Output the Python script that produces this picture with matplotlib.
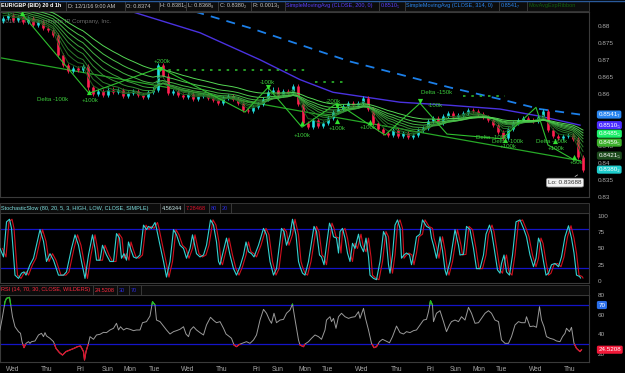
import matplotlib
matplotlib.use('Agg')
import matplotlib.pyplot as plt
import matplotlib.transforms as mtrans
import numpy as np
import pandas as pd
from matplotlib.patches import Rectangle
from matplotlib.lines import Line2D
from matplotlib.colors import LinearSegmentedColormap

plt.rcParams['font.family'] = ['Liberation Sans', 'DejaVu Sans']
plt.rcParams['font.size'] = 4.6

# ---------------- data ----------------
prior_closes = [0.8890, 0.8880, 0.8870, 0.8860, 0.8850, 0.8840, 0.8835, 0.8830]
first_open = 0.8815
closes = [
    0.8823, 0.8832, 0.8817, 0.8826, 0.8812, 0.8823, 0.8803, 0.8812, 0.8794, 0.8788,
    0.8774, 0.8716, 0.8687, 0.8667, 0.8678, 0.8672, 0.8684, 0.8620, 0.8600, 0.8609,
    0.8597, 0.8614, 0.8606, 0.8612, 0.8594, 0.8603, 0.8609, 0.8597, 0.8591, 0.8606,
    0.8614, 0.8687, 0.8655, 0.8603, 0.8609, 0.8597, 0.8591, 0.8600, 0.8586, 0.8594,
    0.8597, 0.8588, 0.8583, 0.8574, 0.8588, 0.8594, 0.8586, 0.8574, 0.8554, 0.8551,
    0.8562, 0.8571, 0.8586, 0.8606, 0.8614, 0.8597, 0.8609, 0.8603, 0.8623, 0.8571,
    0.8516, 0.8504, 0.8525, 0.8507, 0.8516, 0.8530, 0.8548, 0.8557, 0.8565, 0.8574,
    0.8568, 0.8574, 0.8588, 0.8557, 0.8516, 0.8499, 0.8487, 0.8481, 0.8496, 0.8478,
    0.8487, 0.8475, 0.8481, 0.8496, 0.8501, 0.8522, 0.8530, 0.8516, 0.8536, 0.8545,
    0.8533, 0.8539, 0.8545, 0.8554, 0.8551, 0.8542, 0.8533, 0.8525, 0.8510, 0.8490,
    0.8472, 0.8499, 0.8516, 0.8525, 0.8530, 0.8525, 0.8522, 0.8533, 0.8551, 0.8496,
    0.8478, 0.8472, 0.8478, 0.8481, 0.8470, 0.8417, 0.8380]
ribbon_spans = [3, 5, 7, 10, 13, 17, 22, 29]

sma200_t = [22.4, 24.8, 39.4, 51.4, 59.4, 66.0, 79.4, 89.4, 99.4, 107.4, 115.4]
sma200_v = [0.8861, 0.8846, 0.8780, 0.8701, 0.8643, 0.8606, 0.8577, 0.8568, 0.8557, 0.8536, 0.8510]
sma314_t = [35.4, 37.4, 49.4, 59.4, 69.4, 79.4, 89.4, 99.4, 107.4, 115.4]
sma314_v = [0.8858, 0.8846, 0.8794, 0.8745, 0.8696, 0.8658, 0.8620, 0.8586, 0.8557, 0.8541]

trend_t = [-0.6, 115.4]
trend_v = [0.8707, 0.8406]
zig_t = [3.8, 17.2, 31.4, 48.4, 53.0, 59.8, 66.8, 76.4, 83.4, 88.8, 99.8, 106.6, 109.0, 113.8]
zig_v = [0.8835, 0.8603, 0.8678, 0.8548, 0.8620, 0.8504, 0.8574, 0.8481, 0.8574, 0.8484,
         0.8470, 0.8562, 0.8452, 0.8412]
dot_levels = [0.8672, 0.8635, 0.8594]
dot_start = [31.4, 62.4, 92.0]
dot_end = [61.4, 68.4, 100.4]

tri_up_t = [3.8, 17.2, 59.8, 66.8, 73.4, 100.4, 110.4, 114.2]
tri_up_v = [0.8838, 0.8606, 0.8516, 0.8522, 0.8519, 0.8467, 0.8464, 0.8417]
tri_dn_t = [31.4, 53.0, 66.8, 83.4]
tri_dn_v = [0.8675, 0.8620, 0.8565, 0.8580]

note_text = ['Delta -100k', '+100k', '+200k', '-100k', 'Delta -150k', '-200k', '+100k', '+100k',
             '+100k', '-100k', 'Delta -100k', 'Delta -100k', '+100k', 'Delta -100k', '+100k', '+50k']
note_t = [10.0, 17.4, 31.8, 52.8, 86.8, 66.0, 66.8, 59.8, 73.0, 86.4, 97.8, 101.0, 101.0, 109.8, 110.6, 114.6]
note_v = [0.8586, 0.8583, 0.8696, 0.8635, 0.8606, 0.8580, 0.8501, 0.8481, 0.8504, 0.8568,
          0.8475, 0.8461, 0.8449, 0.8461, 0.8441, 0.8400]

last_labels = ['0.8541\u2087', '0.8510\u2085', '0.8485\u2085', '0.8459\u2085', '0.8421\u2085', '0.8380\u2082']
last_values = [0.8541, 0.8510, 0.8485, 0.8459, 0.8421, 0.8380]
last_colors = ['#2a86f0', '#4a2cff', '#1cf06a', '#3cb02a', '#1c4a1c', '#1ecccc']
low_value = 0.83688
low_t = 115.4

stoch_t = [-0.6, 0.1, 0.7, 1.3, 1.7, 2.2, 2.4, 3.1, 3.7, 4.2, 4.6, 5.4, 6.1, 6.7, 7.4, 8.1, 8.7,
           9.4, 10.1, 11.1, 12.1, 12.7, 13.7, 14.4, 15.1, 15.7, 16.4, 17.1, 17.9, 18.4, 18.7,
           19.4, 19.9, 20.7, 21.4, 22.1, 22.7, 23.3, 23.7, 24.2, 24.7, 25.1, 25.5, 26.1, 26.7,
           27.4, 28.1, 28.7, 29.1, 29.7, 30.4, 30.7, 31.4, 32.1, 32.7, 33.4, 34.1, 34.7, 35.4,
           36.1, 36.7, 37.4, 37.9, 38.7, 39.4, 40.1, 40.7, 41.5, 42.1, 42.7, 43.1, 43.4, 44.2,
           44.7, 45.4, 46.1, 46.7, 47.4, 48.1, 48.6, 49.1, 49.7, 50.2, 51.1, 52.1, 52.7, 53.4,
           54.1, 54.7, 55.7, 56.2, 56.7, 57.4, 57.9, 58.6, 59.1, 59.4, 59.9, 60.4, 61.1, 61.7,
           62.2, 62.7, 63.3, 63.7, 64.2, 64.7, 65.3, 65.7, 66.1, 66.7, 67.1, 67.4, 67.9, 68.4,
           68.9, 69.4, 69.9, 70.4, 71.1, 71.5, 72.1, 72.6, 73.1, 73.4, 74.1, 74.7, 75.4, 76.1,
           76.6, 77.1, 77.4, 77.9, 78.4, 78.9, 79.4, 79.7, 80.2, 80.7, 81.3, 81.7, 82.2, 82.7,
           83.4, 83.9, 84.7, 85.4, 85.7, 86.1, 86.7, 87.4, 87.9, 88.4, 88.7, 89.4, 89.9, 90.4,
           91.1, 91.4, 92.1, 92.7, 93.4, 94.1, 94.7, 95.4, 96.1, 96.6, 97.3, 97.7, 98.2, 98.9,
           99.4, 99.7, 100.2, 100.7, 101.3, 101.9, 102.6, 103.4, 104.1, 104.7, 105.4, 106.1,
           106.6, 107.1, 107.5, 108.1, 108.6, 109.1, 109.7, 110.4, 111.1, 111.7, 112.4, 113.1,
           113.7, 114.2, 114.7, 115.3, 115.5]
stoch_k = [50, 37, 91, 95, 81, 30, 9, 4, 12, 14, 9, 25, 35, 55, 79, 61, 30,
           42, 32, 9, 9, 14, 50, 71, 55, 30, 4, 40, 71, 50, 32,
           32, 55, 40, 30, 30, 73, 66, 35, 42, 32, 60, 50, 37, 35,
           40, 86, 79, 84, 81, 90, 81, 55, 30, 6, 30, 79, 71, 55,
           50, 35, 50, 71, 42, 37, 40, 55, 94, 86, 60, 30, 25, 50,
           66, 40, 19, 9, 22, 40, 60, 45, 42, 37, 55, 81, 71, 30,
           9, 19, 81, 76, 55, 71, 95, 71, 30, 22, 12, 9, 30, 60,
           84, 76, 40, 37, 25, 55, 89, 81, 68, 66, 43, 76, 81, 66,
           43, 30, 58, 50, 72, 55, 45, 66, 37, 9, 4, 2, 30, 76,
           68, 25, 12, 40, 86, 94, 81, 35, 40, 43, 40, 25, 43, 68,
           72, 94, 84, 81, 66, 55, 35, 68, 47, 17, 9, 30, 55, 79,
           55, 40, 41, 84, 79, 50, 19, 19, 40, 72, 86, 76, 52, 17,
           12, 27, 40, 14, 9, 40, 91, 94, 81, 68, 40, 22,
           35, 66, 58, 30, 9, 12, 25, 27, 22, 37, 68, 85,
           66, 43, 9, 7, 4.6]
stoch_lines = [80, 20]

rsi_t = [-0.6, -0.1, 0.4, 0.7, 1.3, 1.5, 1.9, 2.4, 3.1, 3.5, 3.8, 4.2, 4.6, 5.1, 5.4, 5.7,
         6.4, 7.1, 7.7, 8.1, 8.4, 8.7, 9.4, 10.1, 10.6, 11.3, 11.9, 12.6, 13.4, 14.2, 14.9,
         15.5, 16.1, 16.3, 16.6, 17.1, 17.4, 18.1, 18.7, 19.4, 20.1, 20.7, 21.4, 22.1, 22.7,
         23.1, 23.5, 24.1, 24.7, 25.4, 26.1, 26.7, 27.4, 27.9, 28.7, 29.4, 29.9, 30.4, 30.7,
         31.4, 32.2, 32.7, 33.4, 34.1, 34.7, 35.4, 36.1, 36.6, 37.1, 37.5, 38.1, 38.7, 39.4,
         40.1, 40.7, 41.5, 42.2, 42.7, 43.4, 44.1, 44.6, 45.3, 45.7, 46.2, 46.7, 47.3, 48.1,
         48.7, 49.4, 50.1, 50.7, 51.4, 52.1, 52.7, 53.3, 53.7, 54.2, 54.7, 55.4, 56.1, 56.7,
         57.4, 57.9, 58.4, 59.1, 59.4, 60.1, 60.4, 61.1, 61.7, 62.4, 63.1, 63.7, 64.4, 64.7,
         65.4, 65.7, 66.1, 66.6, 67.1, 67.7, 68.4, 69.1, 69.7, 70.4, 71.1, 71.4, 72.1, 72.5,
         73.1, 73.7, 74.2, 74.7, 75.3, 75.9, 76.6, 77.3, 77.9, 78.7, 79.4, 80.1, 80.7, 81.4,
         82.1, 82.7, 83.4, 84.1, 84.7, 85.1, 85.5, 85.9, 86.1, 86.7, 87.4, 88.1, 88.7, 89.3,
         89.7, 90.4, 91.1, 91.7, 92.4, 93.1, 93.7, 94.4, 95.1, 95.7, 96.4, 97.1, 97.7, 98.4,
         99.1, 99.7, 100.4, 101.1, 101.7, 102.4, 103.1, 103.7, 104.4, 104.7, 105.4, 106.1,
         106.7, 107.3, 107.7, 108.2, 108.7, 109.4, 110.1, 110.7, 111.4, 111.9, 112.4, 112.7,
         113.3, 113.7, 114.2, 114.7, 115.4, 115.7]
rsi_v = [44.6, 58.1, 73.4, 76.8, 77.8, 71.7, 58.1, 47.9, 42.9, 41.2, 32.7, 26.6, 31.0, 32.7, 31.0, 32.7,
         33.4, 39.5, 41.2, 37.8, 41.9, 38.5, 36.1, 32.7, 25.9, 21.5, 19.1, 22.6, 24.2, 25.9, 27.6,
         28.3, 22.6, 14.0, 22.6, 31.0, 37.8, 35.1, 39.5, 40.2, 42.2, 41.9, 44.6, 46.3, 51.4,
         44.6, 47.9, 44.6, 46.3, 45.3, 43.9, 44.6, 44.6, 52.0, 53.1, 58.8, 73.4, 70.0, 54.7,
         53.1, 47.9, 44.6, 40.5, 42.9, 43.9, 45.3, 47.9, 40.5, 37.8, 44.6, 47.9, 44.6, 41.9,
         39.5, 49.7, 57.5, 54.0, 52.0, 53.1, 46.3, 40.5, 37.8, 36.1, 29.3, 27.6, 30.0, 31.6,
         32.7, 31.0, 34.4, 39.5, 54.7, 65.6, 61.6, 54.7, 51.4, 61.6, 52.0, 54.7, 55.4, 61.6,
         64.9, 71.0, 55.4, 34.4, 29.3, 27.6, 30.3, 32.7, 36.1, 39.5, 37.8, 35.1, 44.6, 54.7,
         58.1, 53.1, 56.4, 46.3, 58.1, 61.6, 58.1, 56.4, 57.5, 58.1, 63.2, 56.4, 66.6, 56.4,
         44.6, 31.0, 26.6, 27.6, 32.7, 35.1, 33.4, 31.6, 37.8, 48.6, 41.9, 40.5, 42.9, 41.9,
         43.9, 44.6, 49.7, 54.7, 55.4, 63.2, 74.4, 70.0, 53.1, 61.6, 64.2, 53.1, 42.9, 49.7,
         53.1, 54.7, 53.1, 58.1, 54.7, 67.6, 61.6, 51.4, 52.0, 56.4, 61.6, 64.2, 61.6, 54.7,
         53.1, 34.4, 31.0, 31.0, 37.8, 49.7, 53.1, 52.0, 52.0, 58.1, 48.0, 48.6,
         47.3, 68.3, 54.7, 48.0, 37.8, 36.1, 35.1, 33.4, 32.7, 37.8, 41.2, 46.3,
         42.9, 47.3, 31.0, 25.9, 22.6, 24.5]
rsi_lines = [70, 30]

day_names = ['Wed', 'Thu', 'Fri', 'Sun', 'Mon', 'Tue', 'Wed', 'Thu', 'Fri', 'Sun',
             'Mon', 'Tue', 'Wed', 'Thu', 'Fri', 'Sun', 'Mon', 'Tue', 'Wed', 'Thu']
day_pos = [2.0, 8.8, 15.4, 21.0, 25.4, 30.2, 37.0, 43.8, 50.6, 55.0,
           60.4, 64.8, 71.8, 78.8, 85.4, 90.6, 95.2, 99.6, 106.6, 113.4]

# 0.85 and 0.855 sit under the last-value boxes, so they are not labelled
price_ticks = [0.83, 0.835, 0.84, 0.845, 0.86, 0.865, 0.87, 0.875, 0.88]
price_tick_labels = ['0.83', '0.835', '0.84', '0.845', '0.86', '0.865', '0.87', '0.875', '0.88']

# ---------------- figure ----------------
W, H = 625, 373
fig = plt.figure(figsize=(W / 100, H / 100), dpi=100, facecolor='black')

def px_rect(x0, y0, x1, y1):
    return [x0 / W, 1 - y1 / H, (x1 - x0) / W, (y1 - y0) / H]

XLIM = (-0.6, 117.2)
LBL = '#a8a8a8'
GRID = '#3a3a3a'

def style(ax):
    ax.set_facecolor('black')
    for s in ax.spines.values():
        s.set_color(GRID)
        s.set_linewidth(0.8)
    ax.set_xlim(*XLIM)
    ax.yaxis.tick_right()
    ax.tick_params(axis='y', length=0, colors=LBL, labelsize=4.6, pad=6)
    ax.tick_params(axis='x', length=0, colors=LBL, labelsize=4.8, pad=3)
    ax.set_xticks([])

ax = fig.add_axes(px_rect(0, 12, 589, 197))
ax_s = fig.add_axes(px_rect(0, 213, 589, 283))
ax_r = fig.add_axes(px_rect(0, 295, 589, 362))
for a in (ax, ax_s, ax_r):
    style(a)

# ---- main price panel ----
c = np.array(closes)
o = np.r_[first_open, c[:-1]]
idx = np.arange(len(c))
up = c >= o
cols = np.where(up, '#22e0e0', '#ff1f4f')
WICK = 0.0006
ax.vlines(idx, np.minimum(o, c) - WICK, np.maximum(o, c) + WICK, colors=cols, lw=0.6, zorder=3)
ax.vlines(idx, o, c, colors=cols, lw=1.9, zorder=3)

full = pd.Series(prior_closes + closes)
cmap = LinearSegmentedColormap.from_list('rib', ['#1d5e1d', '#55d855'])
for k, span in enumerate(ribbon_spans):
    ema = full.ewm(span=span, adjust=False).mean().values[len(prior_closes):]
    ax.plot(idx, ema, color=cmap(k / (len(ribbon_spans) - 1)), lw=0.7, zorder=4)

ax.plot(sma200_t, sma200_v, color='#4a32e0', lw=1.0, zorder=2)
ax.plot(sma314_t, sma314_v, color='#1c7fe8', lw=1.3, ls=(0, (5, 4)), zorder=2)
ax.plot(trend_t, trend_v, color='#27a827', lw=0.9, zorder=2)
ax.plot(zig_t, zig_v, color='#2fc02f', lw=0.8, zorder=5)
ax.hlines(dot_levels, dot_start, dot_end, colors='#2db82d', lw=1.2, linestyles=(0, (1.5, 3.5)), zorder=2)
ax.scatter(tri_up_t, tri_up_v, marker='^', s=14, color='#30e030', zorder=6, linewidths=0)
ax.scatter(tri_dn_t, tri_dn_v, marker='v', s=14, color='#30e030', zorder=6, linewidths=0)
for txt, t, v in zip(note_text, note_t, note_v):
    ax.text(t, v, txt, color='#3ccc3c', fontsize=4.4, ha='center', va='center', zorder=7)

ax.text(0.004, 0.95, '2016 \u00a9 TD Ameritrade IP Company, Inc.', transform=ax.transAxes,
        color='#6a6a6a', fontsize=4.4, va='center', zorder=1)

ax.annotate('Lo: 0.83688', xy=(low_t, low_value), xytext=(112.4, 0.8342),
            color='#333333', fontsize=4.6, ha='center', va='center', zorder=8,
            bbox=dict(boxstyle='round,pad=0.3', fc='#f2f2f2', ec='#888888', lw=0.5),
            arrowprops=dict(arrowstyle='-', color='#cccccc', lw=0.5))

ax.set_ylim(0.83043, 0.88406)
ax.set_yticks(price_ticks)
ax.set_yticklabels(price_tick_labels)
blend = mtrans.blended_transform_factory(ax.transAxes, ax.transData)
for lab, val, col in zip(last_labels, last_values, last_colors):
    ax.text(1.016, val, lab, transform=blend, color='white', fontsize=4.5, ha='left', va='center',
            clip_on=False, zorder=10,
            bbox=dict(boxstyle='round,pad=0.25,rounding_size=0.3', fc=col, ec='none'))

# ---- stochastic panel ----
D_LAG = 0.5
st = np.array(stoch_t)
ax_s.plot(st + D_LAG, stoch_k, color='#d0101e', lw=0.8, zorder=3)
ax_s.plot(st, stoch_k, color='#33d2d2', lw=0.8, zorder=4)
ax_s.axhline(stoch_lines[0], color='#1414c8', lw=0.9, zorder=2)
ax_s.axhline(stoch_lines[1], color='#1414c8', lw=0.9, zorder=2)
ax_s.set_ylim(-3.1, 104.6)
ax_s.set_yticks([0, 25, 50, 75, 100])

# ---- RSI panel ----
ax_r.plot(rsi_t, rsi_v, color='#9a9a9a', lw=0.7, zorder=3)
hi_line, = ax_r.plot(rsi_t, rsi_v, color='#1fc01f', lw=0.9, zorder=4)
lo_line, = ax_r.plot(rsi_t, rsi_v, color='#e0102a', lw=0.9, zorder=4)
hi_clip = Rectangle((XLIM[0], rsi_lines[0]), XLIM[1] - XLIM[0], 100, transform=ax_r.transData)
lo_clip = Rectangle((XLIM[0], -100), XLIM[1] - XLIM[0], 100 + rsi_lines[1], transform=ax_r.transData)
hi_line.set_clip_path(hi_clip)
lo_line.set_clip_path(lo_clip)
ax_r.axhline(rsi_lines[0], color='#1414c8', lw=0.9, zorder=2)
ax_r.axhline(rsi_lines[1], color='#1414c8', lw=0.9, zorder=2)
ax_r.set_ylim(12.0, 80.2)
ax_r.set_yticks([20, 40, 60, 80])
ax_r.set_xticks(day_pos)
ax_r.set_xticklabels(day_names)
rb = mtrans.blended_transform_factory(ax_r.transAxes, ax_r.transData)
ax_r.text(1.016, rsi_lines[0], '70', transform=rb, color='white', fontsize=4.5, ha='left', va='center',
          clip_on=False, zorder=10, bbox=dict(boxstyle='round,pad=0.25', fc='#2a6ee8', ec='none'))
ax_r.text(1.016, rsi_v[-1], '24.5208', transform=rb, color='white', fontsize=4.5, ha='left', va='center',
          clip_on=False, zorder=10, bbox=dict(boxstyle='round,pad=0.25', fc='#f01838', ec='none'))

# ---- header strips ----
def hdr(x0, x1, y0, y1, text, color, bold=False):
    fig.add_artist(Rectangle((x0 / W, 1 - y1 / H), (x1 - x0) / W, (y1 - y0) / H,
                             transform=fig.transFigure, fc='#0c0c0c', ec='#3c3c3c', lw=0.6))
    if text:
        fig.text((x0 + 1.5) / W, 1 - (y0 + y1) / 2 / H, text, color=color, fontsize=4.0,
                 va='center', ha='left', fontweight='bold' if bold else 'normal')

top_items = [
    (0, 66, 'EUR/GBP (BID) 20 d 1h', 'white', True),
    (66, 125, 'D: 12/1/16 9:00 AM', '#c8c8c8', False),
    (125, 159, 'O: 0.8374', '#c8c8c8', False),
    (159, 186, 'H: 0.8381\u2085', '#c8c8c8', False),
    (186, 218, 'L: 0.8368\u2088', '#c8c8c8', False),
    (218, 251, 'C: 0.8380\u2082', '#c8c8c8', False),
    (251, 285, 'R: 0.0013\u2081', '#c8c8c8', False),
    (285, 379, 'SimpleMovingAvg (CLOSE, 200, 0)', '#5a40ff', False),
    (379, 405, '0.8510\u2085', '#5a40ff', False),
    (405, 499, 'SimpleMovingAvg (CLOSE, 314, 0)', '#2a86f0', False),
    (499, 527, '0.8541\u2087', '#2a86f0', False),
    (527, 589, 'MovAvgExpRibbon', '#12600f', False),
]
for x0, x1, t, col, b in top_items:
    hdr(x0, x1, 1, 11, t, col, b)
fig.add_artist(Line2D([0, 1], [1 - 0.6 / H, 1 - 0.6 / H], transform=fig.transFigure, color='#2a5a9a', lw=1.0))

stoch_items = [
    (0, 160, 'StochasticSlow (80, 20, 5, 3, HIGH, LOW, CLOSE, SIMPLE)', '#7fe0e0'),
    (160, 184, '4.56344', '#c8e8e8'),
    (184, 209, '7.28468', '#e0102a'),
    (209, 220, '80', '#2a2ad8'),
    (220, 231, '20', '#2a2ad8'),
    (231, 589, '', 'white'),
]
for x0, x1, t, col in stoch_items:
    hdr(x0, x1, 203, 213, t, col)

rsi_items = [
    (0, 93, 'RSI (14, 70, 30, CLOSE, WILDERS)', '#ff2a40'),
    (93, 117, '24.5208', '#ff2a40'),
    (117, 129, '30', '#2a2ad8'),
    (129, 141, '70', '#2a2ad8'),
    (141, 589, '', 'white'),
]
for x0, x1, t, col in rsi_items:
    hdr(x0, x1, 285, 295, t, col)

fig.savefig('out.png', dpi=100, facecolor='black')
